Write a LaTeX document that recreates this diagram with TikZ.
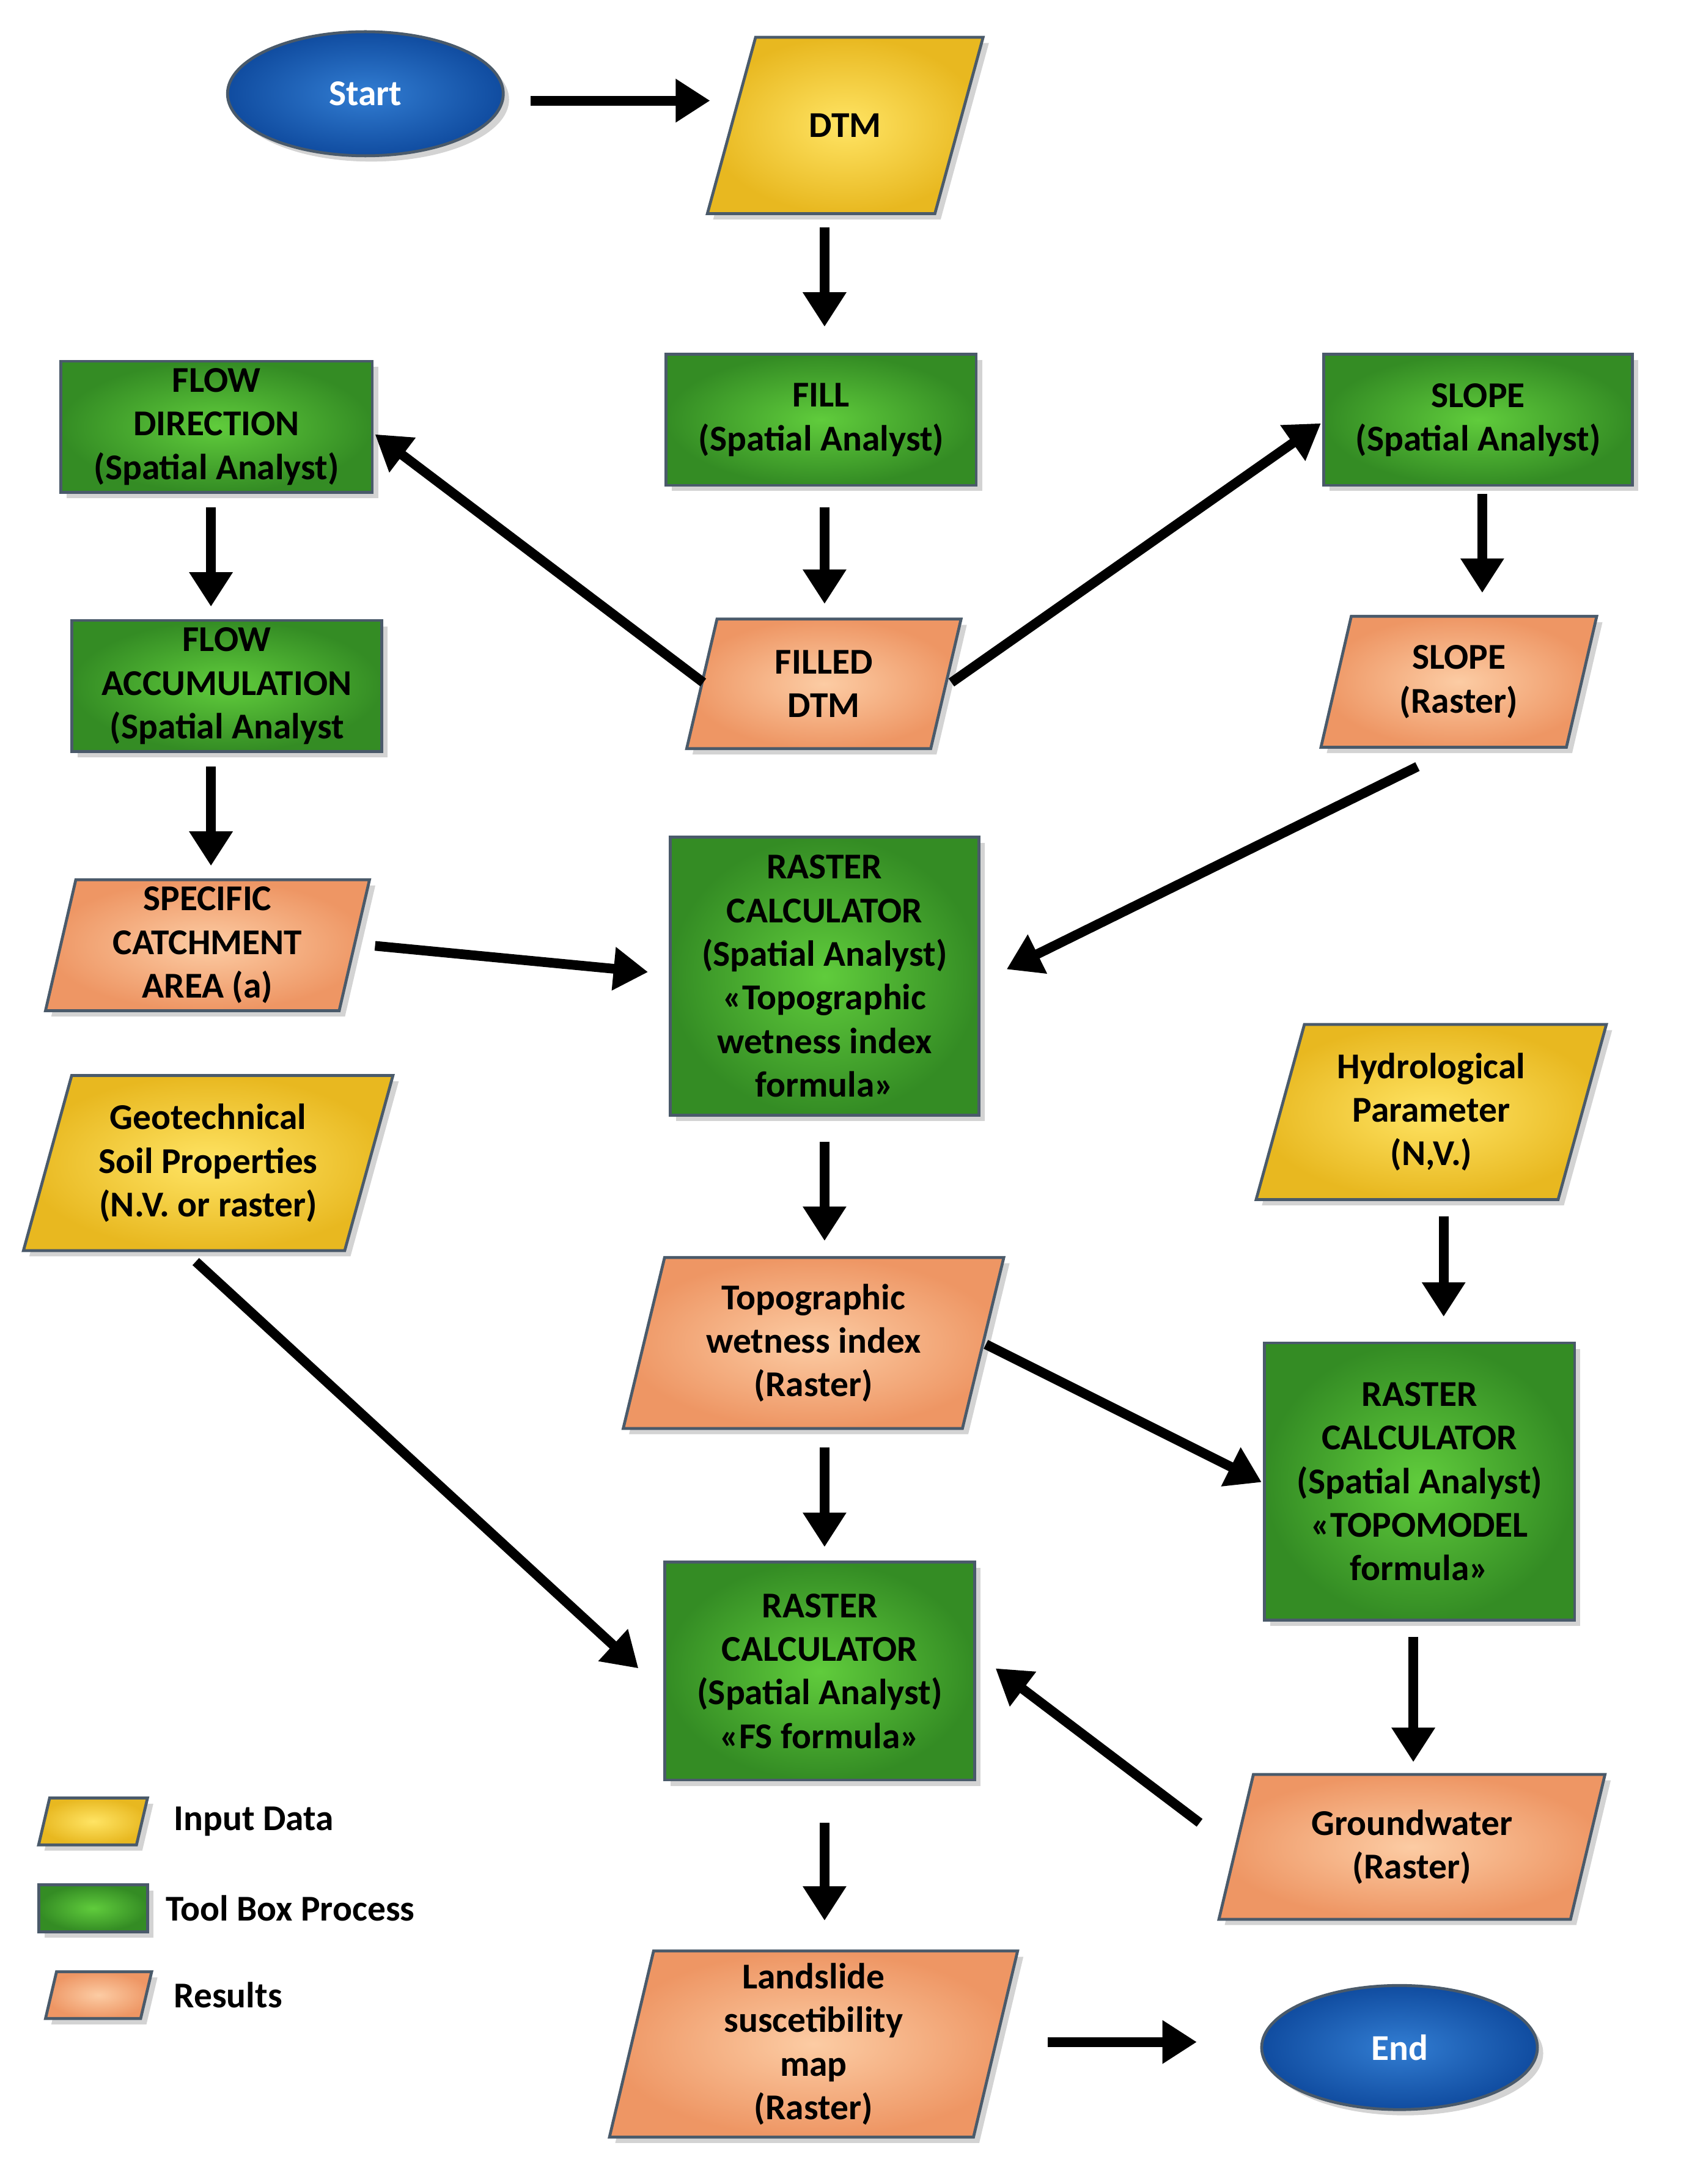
\documentclass[tikz,border=0pt]{standalone}
\usepackage{fontspec}
\setmainfont{Carlito}
\usetikzlibrary{arrows.meta,shapes.geometric,calc,shadows}
\definecolor{bord}{HTML}{4A5A6A}
\tikzset{
  txt/.style={font=\bfseries\fontsize{15}{18}\selectfont,align=center,text=black},
  yel/.style={draw=bord,line width=1.2pt,inner color={rgb,255:red,255;green,228;blue,100},outer color={rgb,255:red,232;green,184;blue,32}},
  ora/.style={draw=bord,line width=1.2pt,inner color={rgb,255:red,252;green,204;blue,164},outer color={rgb,255:red,238;green,150;blue,100}},
  grn/.style={draw=bord,line width=1.2pt,inner color={rgb,255:red,96;green,204;blue,60},outer color={rgb,255:red,52;green,140;blue,36}},
  blu/.style={draw=bord,line width=1.2pt,inner color={rgb,255:red,50;green,125;blue,210},outer color={rgb,255:red,16;green,76;blue,160}},
  arr/.style={line width=4pt,-{Triangle[length=0.5cm,width=0.6cm]}},
}
% \para{name}{x0}{y0}{x1}{y1}{slant}{style}{text}
\newcommand{\para}[8]{%
  \shade[#7,drop shadow={opacity=0.35}] (#2+#6,#3)--(#4,#3)--(#4-#6,#5)--(#2,#5)--cycle;
  \node[txt] (#1) at ({(#2+#4)/2},{(#3+#5)/2}) {#8};}
\newcommand{\rbox}[7]{%
  \shade[#6,drop shadow={opacity=0.35}] (#2,#3) rectangle (#4,#5);
  \node[txt] (#1) at ({(#2+#4)/2},{(#3+#5)/2}) {#7};}
\begin{document}
\begin{tikzpicture}[x=0.02cm,y=-0.02cm]
\useasboundingbox (0,0) rectangle (1219,1584);
% ellipses
\shade[blu,drop shadow={opacity=0.35}] (265,68) ellipse (100 and 45);
\node[txt,text=white] (start) at (265,68) {Start};
\shade[blu,drop shadow={opacity=0.35}] (1015,1485) ellipse (100 and 45);
\node[txt,text=white] (end) at (1015,1485) {End};
% nodes
\para{dtm}{513}{27}{713}{155}{35}{yel}{DTM}
\rbox{fill}{483}{257}{708}{352}{grn}{FILL\\(Spatial Analyst)}
\rbox{fdir}{44}{262}{270}{357}{grn}{FLOW\\DIRECTION\\(Spatial Analyst)}
\rbox{slope}{960}{257}{1184}{352}{grn}{SLOPE\\(Spatial Analyst)}
\para{filled}{498}{449}{697}{543}{22}{ora}{FILLED\\DTM}
\rbox{facc}{52}{450}{277}{545}{grn}{FLOW\\ACCUMULATION\\(Spatial Analyst}
\para{sloper}{958}{447}{1158}{542}{22}{ora}{SLOPE\\(Raster)}
\para{sca}{33}{638}{268}{733}{22}{ora}{SPECIFIC\\CATCHMENT\\AREA (a)}
\rbox{rc1}{486}{607}{710}{809}{grn}{RASTER\\CALCULATOR\\(Spatial Analyst)\\«Topographic\\wetness index\\formula»}
\para{geo}{17}{780}{285}{907}{35}{yel}{Geotechnical\\Soil Properties\\(N.V. or raster)}
\para{hyd}{911}{743}{1165}{870}{35}{yel}{Hydrological\\Parameter\\(N,V.)}
\para{twi}{452}{912}{728}{1036}{30}{ora}{Topographic\\wetness index\\(Raster)}
\rbox{topo}{917}{974}{1142}{1175}{grn}{RASTER\\CALCULATOR\\(Spatial Analyst)\\«TOPOMODEL\\formula»}
\rbox{fs}{482}{1133}{707}{1291}{grn}{RASTER\\CALCULATOR\\(Spatial Analyst)\\«FS formula»}
\para{gw}{884}{1287}{1164}{1392}{25}{ora}{Groundwater\\(Raster)}
\para{land}{442}{1415}{738}{1550}{32}{ora}{Landslide\\suscetibility\\map\\(Raster)}
% legend
\para{lg1}{28}{1304}{107}{1338}{8}{yel}{}
\rbox{lg2}{28}{1367}{107}{1401}{grn}{}
\para{lg3}{33}{1430}{110}{1464}{8}{ora}{}
\node[txt,anchor=west] (l1) at (120,1321) {Input Data};
\node[txt,anchor=west] (l2) at (114,1384) {Tool Box Process};
\node[txt,anchor=west] (l3) at (120,1447) {Results};
% arrow coordinates
\foreach \n/\x/\y in {a1/385/73,b1/515/73,a2/598/165,b2/598/237,a3/598/368,b3/598/438,
 a4/510/495,b4/272/315,a5/690/495,b5/958/307,a6/153/368,b6/153/440,a7/1075/358,b7/1075/430,
 a8/153/556,b8/153/628,a9/272/686,b9/470/705,a10/1028/556,b10/730/703,a11/598/828,b11/598/900,
 a12/1047/882,b12/1047/955,a13/715/975,b13/915/1075,a14/598/1050,b14/598/1122,
 a15/142/915,b15/463/1210,a16/1025/1187,b16/1025/1278,a17/870/1322,b17/722/1210,
 a18/598/1322,b18/598/1393,a19/760/1481,b19/868/1481}
 {\coordinate (\n) at (\x,\y);}
\foreach \i in {1,...,19}{\draw[arr] (a\i) -- (b\i);}
\end{tikzpicture}
\end{document}
